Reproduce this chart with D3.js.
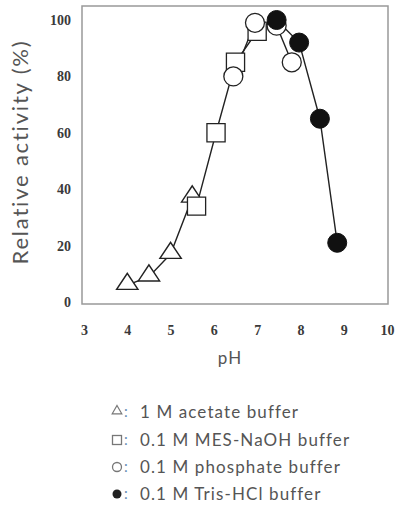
<!DOCTYPE html>
<html>
<head>
<meta charset="utf-8">
<script src="https://cdn.jsdelivr.net/npm/d3@7"></script>
<style>
  body { margin: 0; background: #fff; }
</style>
</head>
<body>
<script>
// pH profiles
var acetatePH = [4.0, 4.5, 5.0, 5.5];
var acetateAct = [6, 9, 17, 37];
var mesPH = [5.6, 6.05, 6.5, 7.0];
var mesAct = [34, 60, 85, 96];
var phosPH = [6.45, 6.95, 7.45, 7.8];
var phosAct = [80, 99, 98, 85];
var trisPH = [7.45, 7.97, 8.45, 8.85];
var trisAct = [100, 92, 65, 21];

var xTicks = [3, 4, 5, 6, 7, 8, 9, 10];
var yTicks = [0, 20, 40, 60, 80, 100];

var legendLabels = ["1 M acetate buffer", "0.1 M MES-NaOH buffer",
                    "0.1 M phosphate buffer", "0.1 M Tris-HCl buffer"];

var W = 399, H = 523;
var svg = d3.select("body").append("svg").attr("width", W).attr("height", H);

var x = d3.scaleLinear().domain([3, 10]).range([84, 387]);
var y = d3.scaleLinear().domain([0, 100]).range([302, 20]);

// frame
svg.append("rect")
  .attr("x", 82).attr("y", 6).attr("width", 306).attr("height", 298)
  .attr("fill", "none").attr("stroke", "#999").attr("stroke-width", 1.5);

var xAxis = svg.append("g").attr("transform", "translate(0,322)")
  .call(d3.axisBottom(x).tickValues(xTicks).tickSize(0).tickFormat(d3.format("d")));
var yAxis = svg.append("g").attr("transform", "translate(74,0)")
  .call(d3.axisLeft(y).tickValues(yTicks).tickSize(0).tickFormat(d3.format("d")));
[xAxis, yAxis].forEach(function (a) {
  a.select(".domain").remove();
  a.selectAll("text")
    .style("font-family", "Liberation Serif, serif")
    .style("font-weight", "bold")
    .style("font-size", "14px")
    .attr("fill", "#3a3a3a");
});

svg.append("text")
  .attr("transform", "translate(28,152) rotate(-90)")
  .attr("text-anchor", "middle")
  .style("font-family", "Lato, sans-serif")
  .style("font-size", "22px")
  .style("letter-spacing", "1.8px")
  .attr("fill", "#555")
  .text("Relative activity (%)");

svg.append("text")
  .attr("x", 230).attr("y", 364)
  .attr("text-anchor", "middle")
  .style("font-family", "Lato, sans-serif")
  .style("font-size", "17px")
  .style("letter-spacing", "1px")
  .attr("fill", "#555")
  .text("pH");

function pts(xs, ys) { return xs.map(function (v, i) { return [v, ys[i]]; }); }
var series = [
  { data: pts(acetatePH, acetateAct), shape: "tri" },
  { data: pts(mesPH, mesAct), shape: "sq" },
  { data: pts(phosPH, phosAct), shape: "circ" },
  { data: pts(trisPH, trisAct), shape: "dot" }
];

var line = d3.line().x(function (d) { return x(d[0]); }).y(function (d) { return y(d[1]); });

series.forEach(function (s) {
  svg.append("path").datum(s.data).attr("d", line)
    .attr("fill", "none").attr("stroke", "#222").attr("stroke-width", 1.4);
});

var triSym = d3.symbol().type(d3.symbolTriangle).size(150);
var sqSym = d3.symbol().type(d3.symbolSquare).size(330);

series.forEach(function (s) {
  var g = svg.append("g");
  s.data.forEach(function (d) {
    var cx = x(d[0]), cy = y(d[1]);
    if (s.shape === "tri") {
      g.append("path").attr("d", triSym()).attr("transform", "translate(" + cx + "," + (cy - 1) + ") scale(1.15,1)")
        .attr("fill", "#fff").attr("stroke", "#222").attr("stroke-width", 1.3);
    } else if (s.shape === "sq") {
      g.append("path").attr("d", sqSym()).attr("transform", "translate(" + cx + "," + cy + ")")
        .attr("fill", "#fff").attr("stroke", "#222").attr("stroke-width", 1.3);
    } else if (s.shape === "circ") {
      g.append("circle").attr("cx", cx).attr("cy", cy).attr("r", 9.5)
        .attr("fill", "#fff").attr("stroke", "#222").attr("stroke-width", 1.3);
    } else {
      g.append("circle").attr("cx", cx).attr("cy", cy).attr("r", 9.5)
        .attr("fill", "#111").attr("stroke", "#111").attr("stroke-width", 1);
    }
  });
});

// legend
var legend = svg.append("g");
var rowY = [412, 440, 467, 494];
legendLabels.forEach(function (lab, i) {
  var cy = rowY[i], cx = 117;
  if (i === 0) {
    legend.append("path").attr("d", d3.symbol().type(d3.symbolTriangle).size(40)())
      .attr("transform", "translate(" + cx + "," + (cy - 1) + ")")
      .attr("fill", "#fff").attr("stroke", "#777").attr("stroke-width", 1.2);
  } else if (i === 1) {
    legend.append("rect").attr("x", cx - 4.5).attr("y", cy - 4.5).attr("width", 9).attr("height", 9)
      .attr("fill", "#fff").attr("stroke", "#777").attr("stroke-width", 1.3);
  } else if (i === 2) {
    legend.append("circle").attr("cx", cx).attr("cy", cy).attr("r", 4.5)
      .attr("fill", "#fff").attr("stroke", "#777").attr("stroke-width", 1.3);
  } else {
    legend.append("circle").attr("cx", cx).attr("cy", cy).attr("r", 4.5).attr("fill", "#222");
  }
  legend.append("text").attr("x", cx + 7).attr("y", cy + 5)
    .style("font-family", "Lato, sans-serif").style("font-size", "15px")
    .attr("fill", "#6a8fb5").text(":");
  legend.append("text").attr("x", 140).attr("y", cy + 6)
    .style("font-family", "Lato, sans-serif").style("font-size", "17px")
    .style("letter-spacing", "1.1px")
    .attr("fill", "#555").text(lab);
});
</script>
</body>
</html>
